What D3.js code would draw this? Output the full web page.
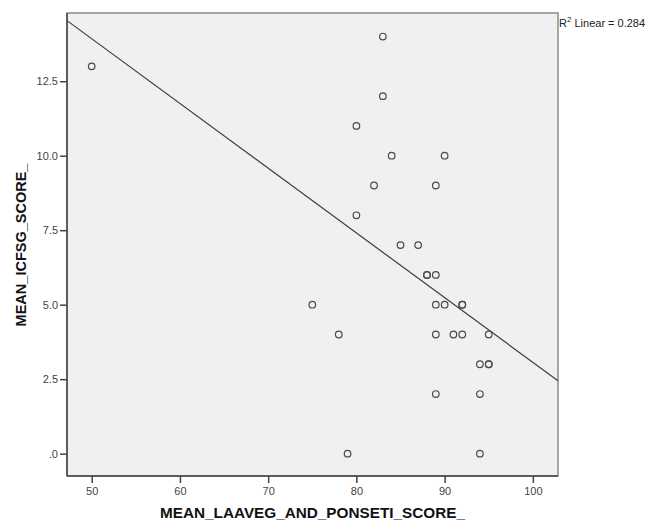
<!DOCTYPE html>
<html>
<head>
<meta charset="utf-8">
<script src="https://d3js.org/d3.v7.min.js"></script>
<style>
    body { margin: 0; background: #fff; }
    text { font-family: "Liberation Sans", Arial, sans-serif; }
</style>
</head>
<body>
<script>
//anonymous function to hold all script in a local scope
(function(){

    //pseudo-global variables
    //x values (MEAN_LAAVEG_AND_PONSETI_SCORE_)
    var laavegScores = [50, 83, 83, 80, 84, 90, 82, 89, 80, 85, 87, 88, 88, 89, 75, 89,
        90, 92, 92, 78, 89, 91, 92, 95, 94, 95, 95, 89, 94, 79, 94];
    //y values (MEAN_ICFSG_SCORE_)
    var icfsgScores = [13, 14, 12, 11, 10, 10, 9, 9, 8, 7, 7, 6, 6, 6, 5, 5,
        5, 5, 5, 4, 4, 4, 4, 4, 3, 3, 3, 2, 2, 0, 0];
    var xTicks = [50, 60, 70, 80, 90, 100];
    var yTicks = [0, 2.5, 5, 7.5, 10, 12.5];
    var xTitle = "MEAN_LAAVEG_AND_PONSETI_SCORE_";
    var yTitle = "MEAN_ICFSG_SCORE_";
    var r2Label = "0.284";

    window.onload = setChart();

    //least squares fit for the reference line
    function linearFit(xs, ys){
        var mx = d3.mean(xs), my = d3.mean(ys);
        var sxy = 0, sxx = 0;
        for (var i = 0; i < xs.length; i++){
            sxy += (xs[i] - mx) * (ys[i] - my);
            sxx += (xs[i] - mx) * (xs[i] - mx);
        };
        var slope = sxy / sxx;
        return { slope: slope, intercept: my - slope * mx };
    };

    function setChart(){
        var width = 646, height = 524;
        var plot = { left: 67, top: 13, right: 558, bottom: 476 };

        var svg = d3.select("body")
            .append("svg")
            .attr("width", width)
            .attr("height", height);

        var xScale = d3.scaleLinear().domain([47.2, 102.85]).range([plot.left, plot.right]);
        var yScale = d3.scaleLinear().domain([-0.75, 14.79]).range([plot.bottom, plot.top]);

        //plot background + frame
        svg.append("rect")
            .attr("x", plot.left)
            .attr("y", plot.top)
            .attr("width", plot.right - plot.left)
            .attr("height", plot.bottom - plot.top)
            .attr("fill", "#f0f0f0")
            .attr("stroke", "#8a8a8a")
            .attr("stroke-width", 1.5);

        //regression line, clipped to the plot box
        svg.append("clipPath")
            .attr("id", "plotClip")
            .append("rect")
            .attr("x", plot.left)
            .attr("y", plot.top)
            .attr("width", plot.right - plot.left)
            .attr("height", plot.bottom - plot.top);

        var fit = linearFit(laavegScores, icfsgScores);
        var xd = xScale.domain();
        svg.append("line")
            .attr("clip-path", "url(#plotClip)")
            .attr("x1", xScale(xd[0]))
            .attr("y1", yScale(fit.intercept + fit.slope * xd[0]))
            .attr("x2", xScale(xd[1]))
            .attr("y2", yScale(fit.intercept + fit.slope * xd[1]))
            .attr("stroke", "#3c3c3c")
            .attr("stroke-width", 1.2);

        //axes
        var xAxis = d3.axisBottom(xScale)
            .tickValues(xTicks)
            .tickSize(7)
            .tickSizeOuter(0)
            .tickPadding(4);
        var yAxis = d3.axisLeft(yScale)
            .tickValues(yTicks)
            .tickSize(7)
            .tickSizeOuter(0)
            .tickPadding(2)
            .tickFormat(function(d){ return d === 0 ? ".0" : d3.format(".1f")(d); });

        var xg = svg.append("g")
            .attr("transform", "translate(0," + plot.bottom + ")")
            .call(xAxis);
        var yg = svg.append("g")
            .attr("transform", "translate(" + plot.left + ",0)")
            .call(yAxis);

        [xg, yg].forEach(function(g){
            g.select(".domain").remove();
            g.selectAll(".tick line").attr("stroke", "#444").attr("stroke-width", 1.5);
            g.selectAll(".tick text")
                .attr("fill", "#444")
                .style("font-size", "11px")
                .style("font-family", "'Liberation Sans', Arial, sans-serif");
        });

        //dark left and bottom axis lines
        svg.append("line")
            .attr("x1", plot.left).attr("x2", plot.left)
            .attr("y1", plot.top).attr("y2", plot.bottom)
            .attr("stroke", "#444").attr("stroke-width", 1.5);
        svg.append("line")
            .attr("x1", plot.left).attr("x2", plot.right)
            .attr("y1", plot.bottom).attr("y2", plot.bottom)
            .attr("stroke", "#444").attr("stroke-width", 1.5);

        //points
        svg.selectAll(".point")
            .data(d3.range(laavegScores.length))
            .enter()
            .append("circle")
            .attr("class", "point")
            .attr("cx", function(i){ return xScale(laavegScores[i]); })
            .attr("cy", function(i){ return yScale(icfsgScores[i]); })
            .attr("r", 3.3)
            .attr("fill", "none")
            .attr("stroke", "#4a4a4a")
            .attr("stroke-width", 1.2);

        //axis titles
        svg.append("text")
            .attr("x", (plot.left + plot.right) / 2)
            .attr("y", 518)
            .attr("text-anchor", "middle")
            .style("font-size", "15.3px")
            .style("font-weight", "bold")
            .attr("fill", "#111")
            .text(xTitle);

        svg.append("text")
            .attr("transform", "translate(26,245) rotate(-90)")
            .attr("text-anchor", "middle")
            .style("font-size", "14.5px")
            .style("font-weight", "bold")
            .attr("fill", "#111")
            .text(yTitle);

        //R squared label
        var r2 = svg.append("text")
            .attr("x", plot.right + 1)
            .attr("y", 27)
            .style("font-size", "11px")
            .attr("fill", "#222");
        r2.append("tspan").text("R");
        r2.append("tspan").attr("dy", -5).style("font-size", "8px").text("2");
        r2.append("tspan").attr("dy", 5).text(" Linear = " + r2Label);
    };
})();
</script>
</body>
</html>
